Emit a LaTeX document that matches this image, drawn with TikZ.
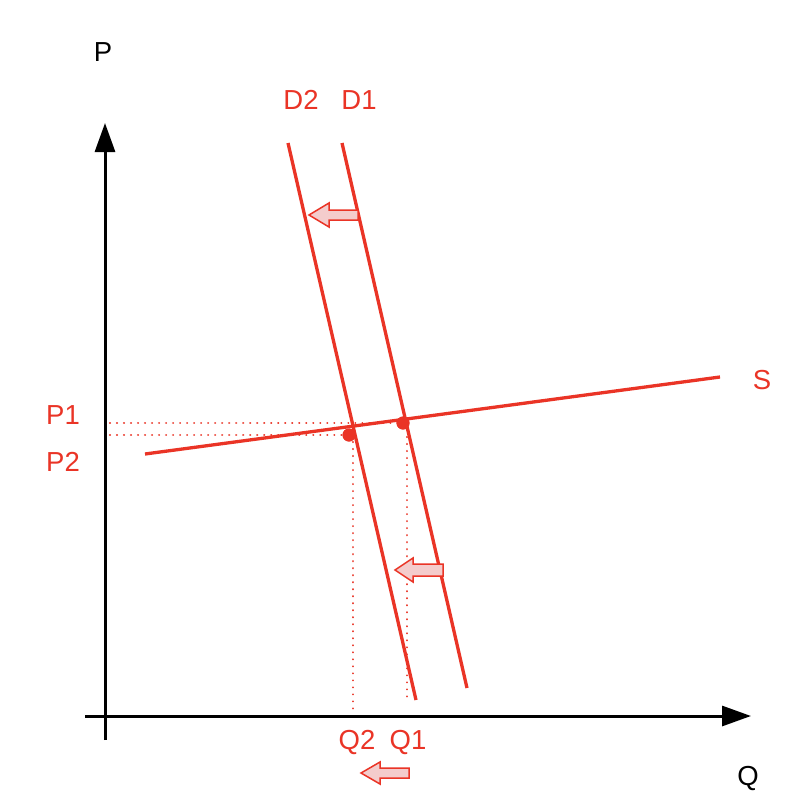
\documentclass[tikz,border=0pt]{standalone}
\usepackage{fontspec}
\setmainfont{Liberation Sans}
\usetikzlibrary{arrows.meta}
\definecolor{cred}{RGB}{234,52,38}
\definecolor{cpink}{RGB}{244,204,204}
\tikzset{
  axis/.style={line width=3pt,black,-{Triangle[length=29pt,width=20pt]}},
  curve/.style={line width=3.3pt,cred},
  guide/.style={cred,line width=2.2pt,dash pattern=on 0.01pt off 7pt,line cap=round},
  lbl/.style={font=\fontsize{27.5}{30}\selectfont,inner sep=0pt},
  rlbl/.style={lbl,text=cred},
  eqdot/.style={circle,fill=cred,minimum size=13pt,inner sep=0pt},
  shiftarrow/.style={draw=cred,fill=cpink,line width=1.5pt,line join=miter}
}
\begin{document}
\begin{tikzpicture}[x=1pt,y=-1pt]
\useasboundingbox (0,0) rectangle (796,808);
\fill[white] (0,0) rectangle (796,808);
% axes
\coordinate (yb) at (105,740);
\coordinate (yt) at (105,123);
\coordinate (xl) at (85,716);
\coordinate (xr) at (751,716);
\draw[axis] (yb) -- (yt);
\draw[axis] (xl) -- (xr);
\node[lbl] (P) at (103,52) {P};
\node[lbl] (Q) at (748,778) {Q};
% guides
\node[eqdot] (E1) at (403,423) {};
\node[eqdot] (E2) at (349,435) {};
\coordinate (p1l) at (110,423);
\coordinate (p2l) at (110,435);
\coordinate (q2b) at (353,712);
\coordinate (q1b) at (407,700);
\coordinate (q2t) at (353,435);
\coordinate (q1t) at (407,423);
\draw[guide] (p1l) -- (E1.center);
\draw[guide] (p2l) -- (E2.center);
\draw[guide] (q2t) -- (q2b);
\draw[guide] (q1t) -- (q1b);
% curves
\coordinate (d2a) at (288,143);
\coordinate (d2b) at (416,700);
\coordinate (d1a) at (342,143);
\coordinate (d1b) at (467,688);
\coordinate (sa) at (145,454);
\coordinate (sb) at (720,377);
\draw[curve] (d2a) -- (d2b);
\draw[curve] (d1a) -- (d1b);
\draw[curve] (sa) -- (sb);
\node[eqdot] at (E1) {};
\node[eqdot] at (E2) {};
% labels
\node[rlbl] (D2) at (301,100) {D2};
\node[rlbl] (D1) at (359,100) {D1};
\node[rlbl] (S) at (762,380) {S};
\node[rlbl] (P1) at (63,415) {P1};
\node[rlbl] (P2) at (63,462) {P2};
\node[rlbl] (Q2) at (357,742) {Q2};
\node[rlbl] (Q1) at (408,742) {Q1};
% shift arrows
\draw[shiftarrow] (309,215) -- (329,203) -- (329,210) -- (358,210) -- (358,220) -- (329,220) -- (329,227) -- cycle;
\draw[shiftarrow] (395,570) -- (413,558) -- (413,564) -- (443,564) -- (443,576) -- (413,576) -- (413,582) -- cycle;
\draw[shiftarrow] (361,773) -- (380,762) -- (380,768) -- (409,768) -- (409,778) -- (380,778) -- (380,784) -- cycle;
\end{tikzpicture}
\end{document}
